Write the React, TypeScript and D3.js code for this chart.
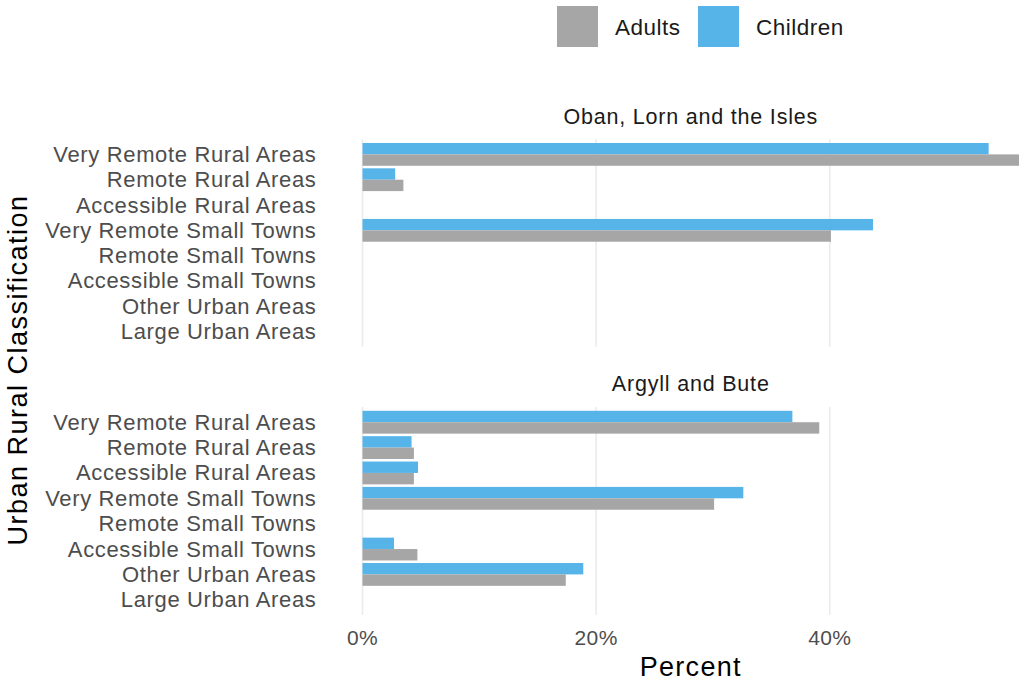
import React from "react";
import * as d3 from "d3";

const categories = [
  "Very Remote Rural Areas",
  "Remote Rural Areas",
  "Accessible Rural Areas",
  "Very Remote Small Towns",
  "Remote Small Towns",
  "Accessible Small Towns",
  "Other Urban Areas",
  "Large Urban Areas",
];
const panelTitles = ["Oban, Lorn and the Isles", "Argyll and Bute"];
const obanAdults = [56.2, 3.5, 0, 40.1, 0, 0, 0, 0];
const obanChildren = [53.6, 2.8, 0, 43.7, 0, 0, 0, 0];
const argyllAdults = [39.1, 4.4, 4.4, 30.1, 0, 4.7, 17.4, 0];
const argyllChildren = [36.8, 4.2, 4.75, 32.6, 0, 2.7, 18.9, 0];
const xTicks = [0, 20, 40];
const seriesNames = ["Adults", "Children"];
const seriesColors = ["#A6A6A6", "#56B4E9"];

const W = 1019;
const H = 682;
const FONT = "'Liberation Sans', Arial, sans-serif";

export default function App() {
  const x = d3.scaleLinear().domain([0, 56.2]).range([362.5, 1019]);
  const panels = [
    { title: panelTitles[0], adults: obanAdults, children: obanChildren, top: 139.2, bottom: 346.8, titleY: 117 },
    { title: panelTitles[1], adults: argyllAdults, children: argyllChildren, top: 407, bottom: 615, titleY: 384 },
  ];
  const panelCenter = (x.range()[0] + x.range()[1]) / 2;

  return (
    <svg width={W} height={H} style={{ position: "absolute", left: 0, top: 0, background: "#fff" }} fontFamily={FONT}>
      {/* legend */}
      {seriesNames.map((s, i) => {
        const lx = i === 0 ? 557 : 698;
        return (
          <g key={s}>
            <rect x={lx} y={6} width={41} height={41} fill={seriesColors[i]} />
            <text x={lx + 58} y={27} dominantBaseline="central" fontSize={22.5} letterSpacing={0.5} fill="#1A1A1A">{s}</text>
          </g>
        );
      })}

      {panels.map((p) => {
        const y = d3.scalePoint<string>().domain(categories).range([p.top, p.bottom]).padding(0.6);
        const step = y.step();
        const bw = step * 0.9;
        return (
          <g key={p.title}>
            <text x={panelCenter} y={p.titleY} textAnchor="middle" dominantBaseline="central" fontSize={21.5} letterSpacing={0.8} fill="#1A1A1A">{p.title}</text>
            {xTicks.map((t) => (
              <line key={t} x1={x(t)} x2={x(t)} y1={p.top} y2={p.bottom} stroke="#EBEBEB" strokeWidth={1.6} />
            ))}
            {categories.map((c, i) => {
              const cy = y(c)!;
              return (
                <g key={c}>
                  <text x={316.5} y={cy} textAnchor="end" dominantBaseline="central" fontSize={22} letterSpacing={0.65} fill="#4D4D4D">{c}</text>
                  {p.children[i] > 0 && (
                    <rect x={x(0)} y={cy - bw / 2} width={x(p.children[i]) - x(0)} height={bw / 2} fill={seriesColors[1]} />
                  )}
                  {p.adults[i] > 0 && (
                    <rect x={x(0)} y={cy} width={x(p.adults[i]) - x(0)} height={bw / 2} fill={seriesColors[0]} />
                  )}
                </g>
              );
            })}
          </g>
        );
      })}

      {xTicks.map((t) => (
        <text key={t} x={x(t)} y={637} textAnchor="middle" dominantBaseline="central" fontSize={21} letterSpacing={0.4} fill="#4D4D4D">{`${t}%`}</text>
      ))}
      <text x={panelCenter} y={667} textAnchor="middle" dominantBaseline="central" fontSize={27} letterSpacing={1.3} fill="#000">Percent</text>
      <text transform={`translate(18, 370) rotate(-90)`} textAnchor="middle" dominantBaseline="central" fontSize={27} letterSpacing={1.5} fill="#000">Urban Rural Classification</text>
    </svg>
  );
}
